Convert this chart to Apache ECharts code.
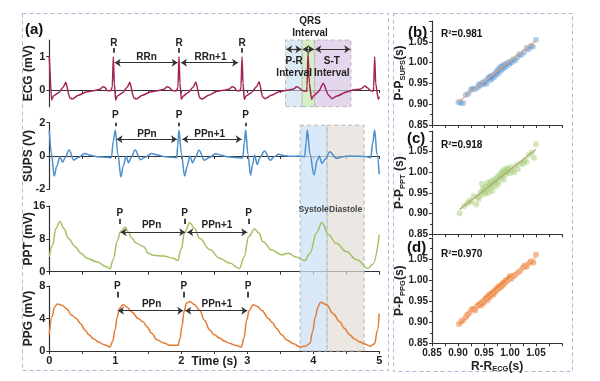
<!DOCTYPE html>
<html><head><meta charset="utf-8">
<script src="https://cdn.jsdelivr.net/npm/echarts@6/dist/echarts.min.js"></script>
<style>html,body{margin:0;padding:0;background:#fff}#c{width:600px;height:381px}</style>
</head><body><div id="c"></div>
<script>
// ---------- DATA ----------
const timeTicks = [0, 1, 2, 3, 4, 5];
const scatterTicks = [0.85, 0.90, 0.95, 1.00, 1.05];
const ecgYTicks = [0, 1];
const leftNames = ['ECG (mV)', 'SUPS (V)', 'PPT (mV)', 'PPG (mV)'];

const ecgData = [[0,1.0],[0.035,-0.3],[0.06,-0.18],[0.14,-0.08],[0.21,0.08],[0.25,0.23],[0.31,-0.24],[0.35,-0.27],[0.44,-0.16],[0.57,-0.05],[0.67,-0.02],[0.77,0.02],[0.81,0.1],[0.84,0.08],[0.88,-0.02],[0.93,-0.02],[0.955,0.1],[0.97,1.0],[0.985,0.2],[1.005,-0.3],
[1.03,-0.18],[1.11,-0.08],[1.18,0.08],[1.22,0.23],[1.28,-0.24],[1.32,-0.27],[1.41,-0.16],[1.54,-0.05],[1.64,-0.02],[1.74,0.02],[1.78,0.1],[1.81,0.08],[1.87,-0.02],[1.93,-0.02],[1.95,0.1],[1.965,1.0],[1.98,0.2],[2.0,-0.28],
[2.03,-0.18],[2.1,-0.08],[2.18,0.08],[2.22,0.24],[2.28,-0.24],[2.32,-0.27],[2.41,-0.16],[2.54,-0.04],[2.64,-0.01],[2.73,0.03],[2.77,0.1],[2.8,0.08],[2.84,-0.02],[2.89,-0.02],[2.905,0.1],[2.92,1.0],[2.935,0.2],[2.955,-0.28],
[2.98,-0.18],[3.06,-0.08],[3.14,0.1],[3.18,0.25],[3.23,-0.2],[3.27,-0.26],[3.36,-0.16],[3.48,-0.05],[3.6,-0.01],[3.7,0.03],[3.75,0.1],[3.78,0.07],[3.84,-0.02],[3.9,-0.04],[3.905,0.1],[3.92,1.12],[3.94,0.2],[3.975,-0.28],
[4.0,-0.18],[4.08,-0.05],[4.15,0.2],[4.23,-0.15],[4.28,-0.26],[4.36,-0.18],[4.5,-0.06],[4.6,0.0],[4.72,0.03],[4.78,0.12],[4.82,0.07],[4.87,-0.02],[4.91,-0.03],[4.915,0.1],[4.93,1.0],[4.945,0.2],[4.985,-0.28],[5.0,-0.2]];

const supsData = [[0,1.55],[0.03,0.2],[0.075,-1.2],[0.11,-0.64],[0.16,-0.04],[0.2,-0.38],[0.24,-0.1],[0.3,0.36],[0.37,-0.24],[0.43,-0.1],[0.54,0.15],[0.62,0.05],[0.72,-0.04],[0.87,-0.08],[0.94,-0.1],[0.97,0.9],[1.0,1.56],
[1.04,0.1],[1.085,-1.25],[1.12,-0.6],[1.165,-0.02],[1.2,-0.4],[1.24,-0.1],[1.3,0.36],[1.38,-0.22],[1.45,-0.08],[1.55,0.15],[1.64,0.06],[1.75,-0.04],[1.87,-0.08],[1.93,-0.1],[1.945,0.6],[1.965,1.56],
[2.0,0.2],[2.05,-1.2],[2.09,-0.6],[2.13,0.0],[2.17,-0.4],[2.21,-0.1],[2.27,0.35],[2.35,-0.25],[2.42,-0.1],[2.52,0.14],[2.6,0.05],[2.7,-0.05],[2.85,-0.1],[2.93,-0.12],[2.955,0.8],[2.975,1.56],
[3.01,0.1],[3.05,-1.15],[3.08,-0.5],[3.11,0.05],[3.15,-0.5],[3.19,-0.1],[3.26,0.3],[3.35,-0.25],[3.41,-0.05],[3.47,0.1],[3.56,0.02],[3.65,-0.02],[3.8,0.0],[3.87,-0.05],[3.89,0.8],[3.91,1.56],
[3.95,0.1],[4.01,-1.14],[4.06,-0.24],[4.09,0.0],[4.13,-0.44],[4.18,-0.2],[4.25,0.26],[4.35,-0.14],[4.45,-0.04],[4.55,0.0],[4.7,-0.02],[4.81,-0.04],[4.87,-0.1],[4.9,0.8],[4.93,1.56],[4.965,0.1],[5.0,-1.1]];

const pptData = [[0,3.6],[0.05,6.5],[0.1,10.5],[0.16,12.2],[0.22,10.5],[0.29,8.1],[0.39,6.1],[0.48,4.5],[0.57,3.3],[0.72,2.4],[0.87,1.2],[0.92,0.7],[0.97,3.0],[1.03,7.5],[1.08,9.8],[1.15,10.8],[1.2,9.6],[1.25,8.2],[1.32,6.9],[1.43,6.1],[1.5,4.5],[1.57,4.0],[1.73,3.8],[1.88,3.3],[1.945,2.7],[2.0,5.5],[2.05,9.6],[2.13,11.9],[2.2,10.5],[2.28,8.1],[2.43,5.4],[2.58,3.3],[2.73,2.1],[2.88,0.8],[2.95,3.5],[3.02,8.5],[3.11,10.4],[3.17,9.5],[3.24,7.3],[3.37,5.3],[3.52,4.1],[3.62,4.5],[3.75,3.5],[3.87,2.7],[3.95,4.5],[4.05,9.5],[4.13,12.0],[4.23,9.0],[4.35,6.9],[4.5,4.9],[4.66,2.9],[4.83,0.8],[4.9,1.8],[5.0,9.0]];

const ppgData = [[0,2.0],[0.04,4.2],[0.08,5.4],[0.12,5.8],[0.2,5.6],[0.26,5.2],[0.34,4.4],[0.41,4.0],[0.47,3.4],[0.54,2.6],[0.6,2.0],[0.67,1.5],[0.75,1.1],[0.82,0.8],[0.92,0.5],[0.96,1.2],[0.995,2.6],[1.03,4.2],[1.06,5.2],[1.12,5.7],[1.18,5.4],[1.25,4.8],[1.35,4.0],[1.42,3.6],[1.48,3.0],[1.55,2.2],[1.63,1.4],[1.73,1.0],[1.83,0.7],[1.95,0.7],[1.98,1.5],[2.01,3.0],[2.04,4.8],[2.08,5.9],[2.13,6.1],[2.2,5.7],[2.28,5.0],[2.35,3.8],[2.43,2.6],[2.5,2.0],[2.58,1.6],[2.66,1.2],[2.73,0.95],[2.82,0.7],[2.91,0.5],[2.95,1.6],[2.99,3.8],[3.03,5.0],[3.09,5.7],[3.15,5.5],[3.22,5.0],[3.32,4.0],[3.38,3.5],[3.44,2.8],[3.52,2.0],[3.6,1.35],[3.7,0.9],[3.8,0.5],[3.88,0.6],[3.95,0.95],[3.99,2.4],[4.03,4.2],[4.07,5.4],[4.11,6.0],[4.2,5.7],[4.3,4.6],[4.4,3.6],[4.47,2.8],[4.55,2.0],[4.62,1.5],[4.7,1.15],[4.78,0.85],[4.86,0.6],[4.93,0.9],[4.97,2.5],[5.0,4.6]];

const supsScatter = [[0.901,0.905],[0.905,0.903],[0.910,0.903],[0.915,0.922],[0.920,0.925],[0.925,0.935],[0.928,0.938],[0.932,0.936],[0.938,0.940],[0.940,0.948],[0.943,0.945],[0.947,0.952],[0.950,0.948],[0.952,0.955],[0.955,0.950],[0.957,0.962],[0.960,0.965],[0.962,0.958],[0.963,0.968],[0.966,0.962],[0.968,0.970],[0.970,0.966],[0.972,0.975],[0.975,0.980],[0.976,0.972],[0.978,0.985],[0.980,0.978],[0.982,0.990],[0.984,0.983],[0.986,0.993],[0.988,0.987],[0.990,0.996],[0.992,0.990],[0.995,0.999],[0.998,0.995],[1.000,1.002],[1.003,1.000],[1.006,1.008],[1.010,1.005],[1.014,1.012],[1.018,1.020],[1.022,1.018],[1.027,1.025],[1.032,1.035],[1.036,1.032],[1.040,1.040],[1.044,1.038],[1.050,1.055]];
const pptScatter = [[0.903,0.901],[0.912,0.918],[0.918,0.925],[0.922,0.932],[0.926,0.928],[0.930,0.942],[0.935,0.922],[0.938,0.940],[0.940,0.935],[0.943,0.952],[0.945,0.945],[0.946,0.972],[0.948,0.960],[0.950,0.955],[0.952,0.948],[0.953,0.965],[0.955,0.958],[0.957,0.975],[0.958,0.950],[0.960,0.968],[0.962,0.962],[0.963,0.978],[0.965,0.970],[0.966,0.955],[0.968,0.982],[0.970,0.975],[0.972,0.965],[0.973,0.985],[0.975,0.978],[0.977,0.990],[0.978,0.972],[0.980,0.995],[0.982,0.985],[0.984,1.000],[0.985,0.992],[0.987,1.005],[0.988,0.982],[0.990,1.000],[0.992,0.995],[0.993,1.010],[0.995,1.002],[0.997,1.008],[1.000,0.998],[1.002,1.012],[1.005,1.005],[1.008,1.000],[1.012,1.018],[1.015,1.008],[1.020,1.022],[1.025,1.020],[1.028,1.030],[1.032,1.025],[1.036,1.042],[1.042,1.048],[1.046,1.035],[1.050,1.068]];
const ppgScatter = [[0.902,0.896],[0.906,0.902],[0.910,0.905],[0.915,0.912],[0.918,0.918],[0.922,0.922],[0.926,0.930],[0.930,0.932],[0.933,0.928],[0.937,0.938],[0.940,0.942],[0.943,0.945],[0.945,0.940],[0.948,0.950],[0.950,0.946],[0.952,0.955],[0.955,0.958],[0.957,0.952],[0.958,0.962],[0.960,0.965],[0.962,0.960],[0.964,0.968],[0.966,0.970],[0.968,0.965],[0.970,0.975],[0.972,0.972],[0.974,0.980],[0.976,0.978],[0.978,0.985],[0.980,0.982],[0.982,0.988],[0.984,0.985],[0.986,0.993],[0.988,0.990],[0.990,0.995],[0.992,1.000],[0.995,0.998],[0.998,1.005],[1.000,1.010],[1.003,1.003],[1.006,1.010],[1.010,1.012],[1.015,1.018],[1.020,1.022],[1.025,1.030],[1.028,1.035],[1.032,1.032],[1.036,1.040],[1.040,1.045],[1.045,1.042],[1.050,1.060]];
const supsFit = [[0.900,0.905],[1.050,1.053]];
const pptFit = [[0.903,0.910],[1.050,1.055]];
const ppgFit = [[0.900,0.898],[1.050,1.055]];
const r2Labels = ['R\u00b2=0.981', 'R\u00b2=0.918', 'R\u00b2=0.970'];

// annotation positions (data coordinates)
const ecgR = [0.98, 1.965, 2.92];
const supsP = [1.0, 1.965, 2.975];
const pptP = [1.07, 2.05, 3.02];
const ppgP = [1.03, 2.04, 3.01];
const ecgIntervals = [[3.58, 3.83], [3.83, 4.02], [4.02, 4.57]];
const cycleBoxes = [[3.8, 4.21], [4.21, 4.77]];

// ---------- CHART ----------
const F = 'Liberation Sans';
const AX = '#333';
const chart = echarts.init(document.getElementById('c'), null, {renderer: 'canvas'});

const leftGrids = [
  {left: 49.3, top: 40, width: 330, height: 66.7},
  {left: 49.3, top: 122.7, width: 330, height: 66.6},
  {left: 49.3, top: 206, width: 330, height: 65.7},
  {left: 49.3, top: 286, width: 330, height: 65}
];
const rightGrids = [
  {left: 432, top: 21, width: 130, height: 104},
  {left: 432, top: 131, width: 130, height: 103.3},
  {left: 432, top: 238, width: 130, height: 105.3}
];

function lx(i, show) {
  return {type: 'value', gridIndex: i, min: 0, max: 5, interval: 0.5,
    axisLine: {lineStyle: {color: AX, width: 1.2}},
    axisTick: {length: 3, lineStyle: {color: AX, width: 1}},
    axisLabel: {show: show, margin: 4, fontFamily: F, fontWeight: 'bold', fontSize: 11, color: '#222',
      formatter: v => timeTicks.indexOf(v) >= 0 ? String(v) : ''},
    splitLine: {show: false},
    name: show ? 'Time (s)' : '', nameLocation: 'middle', nameGap: 5, nameMoveOverlap: false,
    nameTextStyle: {fontFamily: F, fontWeight: 'bold', fontSize: 12, color: '#222'}};
}
function ly(i, min, max, interval, extra) {
  const o = {type: 'value', gridIndex: i, min: min, max: max, interval: interval,
    axisLine: {show: true, lineStyle: {color: AX, width: 1.2}},
    axisTick: {show: true, length: 3, lineStyle: {color: AX}},
    axisLabel: {margin: 4, fontFamily: F, fontWeight: 'bold', fontSize: 11, color: '#222'},
    splitLine: {show: false}};
  if (extra) extra(o);
  return o;
}
const richName = {a: {fontFamily: F, fontWeight: 'bold', fontSize: 12, color: '#222'},
  b: {fontFamily: F, fontWeight: 'bold', fontSize: 7.5, color: '#222', padding: [6, 0, 0, 0]}};
function sx(i, show, name) {
  return {type: 'value', gridIndex: i, min: 0.85, max: 1.10, interval: 0.05,
    axisLine: {lineStyle: {color: AX, width: 1.2}},
    axisTick: {length: 3, lineStyle: {color: AX}},
    minorTick: {show: true, splitNumber: 2, length: 3, lineStyle: {color: AX}},
    axisLabel: {show: show, margin: 5, fontFamily: F, fontWeight: 'bold', fontSize: 10, color: '#222',
      formatter: v => v > 1.07 ? '' : v.toFixed(2)},
    splitLine: {show: false},
    name: name || '', nameLocation: 'middle', nameGap: 16, nameMoveOverlap: false,
    nameTextStyle: {fontFamily: F, fontWeight: 'bold', fontSize: 12, color: '#222', rich: richName}};
}
function sy(i, name) {
  return {type: 'value', gridIndex: i, min: 0.85, max: 1.10, interval: 0.05,
    axisLine: {show: true, lineStyle: {color: AX, width: 1.2}},
    axisTick: {show: true, length: 3, lineStyle: {color: AX}},
    minorTick: {show: true, splitNumber: 2, length: 2, lineStyle: {color: AX}},
    axisLabel: {margin: 4, fontFamily: F, fontWeight: 'bold', fontSize: 10, color: '#222',
      formatter: v => v > 1.07 ? '' : v.toFixed(2)},
    splitLine: {show: false},
    name: name, nameLocation: 'middle', nameGap: 25, nameRotate: 90, nameMoveOverlap: false,
    nameTextStyle: {fontFamily: F, fontWeight: 'bold', fontSize: 12, color: '#222', rich: richName}};
}

function arrow(t1, t2, v) { return [{coord: [t1, v], symbol: 'arrow'}, {coord: [t2, v], symbol: 'arrow'}]; }
function bar(t, v1, v2) { return [{coord: [t, v1], symbol: 'none', lineStyle: {width: 1.8}}, {coord: [t, v2], symbol: 'none'}]; }
function txt(t, v, s, fs, color) {
  return {coord: [t, v], name: s, label: {fontSize: fs || 10, color: color || '#222'}};
}
const mlBase = {silent: true, symbolSize: 6, animation: false, label: {show: false},
  lineStyle: {color: '#333', width: 1.2, type: 'solid'}, emphasis: {disabled: true}};
const mpBase = {silent: true, symbol: 'circle', symbolSize: 0, animation: false,
  itemStyle: {color: 'transparent'},
  label: {show: true, position: 'inside', formatter: '{b}', fontFamily: F, fontWeight: 'bold', fontSize: 10, color: '#222', lineHeight: 12}};

// texts placed above a plot area (drawn through convertToPixel)
const outsideTexts = [];

// ECG annotations
const ecgML = [];
ecgR.forEach(t => ecgML.push(bar(t, 1.12, 1.26)));
ecgML.push(arrow(ecgR[0] + 0.01, ecgR[1] - 0.02, 0.82));
ecgML.push(arrow(ecgR[1] + 0.03, ecgR[2] - 0.06, 0.82));
ecgIntervals.forEach(iv => ecgML.push(arrow(iv[0] + 0.01, iv[1] - 0.01, 1.22)));
const ecgMP = ecgR.map(t => txt(t, 1.41, 'R'));
ecgMP.push(txt((ecgR[0] + ecgR[1]) / 2, 0.99, 'RRn'));
ecgMP.push(txt((ecgR[1] + ecgR[2]) / 2, 0.99, 'RRn+1'));
ecgMP.push(txt(3.71, 0.67, 'P-R\nInterval'));
ecgMP.push(txt(4.28, 0.67, 'S-T\nInterval'));
outsideTexts.push({grid: 0, t: 3.95, v: 1.89, s: 'QRS\nInterval'});

const supsML = supsP.map(t => bar(t, 1.78, 2.0));
supsML.push(arrow(supsP[0] + 0.02, supsP[1] - 0.03, 1.0));
supsML.push(arrow(supsP[1] + 0.05, supsP[2] - 0.06, 1.0));
supsP.forEach(t => outsideTexts.push({grid: 1, t: t, v: 2.46, s: 'P'}));
const supsMP = [txt(1.48, 1.32, 'PPn'), txt(2.43, 1.32, 'PPn+1')];

const pptML = pptP.map(t => bar(t, 11.6, 12.9));
pptML.push(arrow(pptP[0] + 0.01, pptP[1] + 0.01, 9.6));
pptML.push(arrow(pptP[1] + 0.04, pptP[2] - 0.02, 9.6));
const pptMP = pptP.map(t => txt(t, 14.2, 'P'));
pptMP.push(txt(1.55, 11.4, 'PPn'));
pptMP.push(txt(2.54, 11.4, 'PPn+1'));
pptMP.push(txt((cycleBoxes[0][0] + cycleBoxes[0][1]) / 2, 15.0, 'Systole', 8.5, '#444'));
pptMP.push(txt((cycleBoxes[1][0] + cycleBoxes[1][1]) / 2, 15.0, 'Diastole', 8.5, '#444'));

const ppgML = ppgP.map(t => bar(t, 6.6, 7.3));
ppgML.push(arrow(ppgP[0] + 0.01, ppgP[1] - 0.01, 4.96));
ppgML.push(arrow(ppgP[1] + 0.02, ppgP[2] - 0.01, 4.96));
const ppgMP = ppgP.map(t => txt(t, 7.95, 'P'));
ppgMP.push(txt(1.55, 5.8, 'PPn'));
ppgMP.push(txt(2.54, 5.8, 'PPn+1'));

const intervalColors = ['rgba(196,220,240,0.6)', 'rgba(200,232,176,0.75)', 'rgba(216,196,228,0.7)'];

function line(i, data, color, smooth, ml, mp, extra) {
  const s = {type: 'line', xAxisIndex: i, yAxisIndex: i, data: data, showSymbol: false, symbol: 'none',
    smooth: smooth, smoothMonotone: 'x', clip: false, z: 3,
    lineStyle: {color: color, width: 1.5}, itemStyle: {color: color},
    markLine: Object.assign({}, mlBase, {data: ml}),
    markPoint: Object.assign({}, mpBase, {data: mp})};
  if (extra) Object.assign(s, extra);
  return s;
}

const option = {
  animation: false,
  backgroundColor: '#fff',
  textStyle: {fontFamily: F},
  grid: leftGrids.concat(rightGrids),
  xAxis: [lx(0, false), lx(1, false), lx(2, false), lx(3, true),
    sx(4, false), sx(5, false), sx(6, true, '{a|R-R}{b|ECG}{a|(s)}')],
  yAxis: [
    ly(0, -0.5, 1.5, 0.5, o => {
      o.axisLabel.formatter = v => ecgYTicks.indexOf(v) >= 0 ? String(v) : '';
      o.axisTick.customValues = ecgYTicks;
      o.axisLabel.customValues = ecgYTicks;
    }),
    ly(1, -2, 2, 2),
    ly(2, 0, 16, 8),
    ly(3, 0, 8, 4),
    sy(4, '{a|P-P}{b|SUPS}{a|(s)}'),
    sy(5, '{a|P-P}{b|PPT}{a| (s)}'),
    sy(6, '{a|P-P}{b|PPG}{a|(s)}')
  ],
  series: [
    line(0, ecgData, '#a3245a', 0.2, ecgML, ecgMP, {
      markArea: {silent: true, data: ecgIntervals.map((iv, k) => [
        {xAxis: iv[0], yAxis: -0.5, itemStyle: {color: intervalColors[k], borderColor: '#b8b8b8', borderWidth: 1, borderType: [4, 3]}},
        {xAxis: iv[1], yAxis: 1.5}])}
    }),
    line(1, supsData, '#4d8fcc', 0.35, supsML, supsMP),
    line(2, pptData, '#a3c064', 0.4, pptML, pptMP),
    line(3, ppgData, '#e57a32', 0.4, ppgML, ppgMP),
    {type: 'scatter', xAxisIndex: 4, yAxisIndex: 4, data: supsScatter, symbolSize: 6, z: 2,
      itemStyle: {color: 'rgba(84,144,204,0.55)'}},
    {type: 'scatter', xAxisIndex: 5, yAxisIndex: 5, data: pptScatter, symbolSize: 6, z: 2,
      itemStyle: {color: 'rgba(164,204,112,0.6)'}},
    {type: 'scatter', xAxisIndex: 6, yAxisIndex: 6, data: ppgScatter, symbolSize: 6, z: 2,
      itemStyle: {color: 'rgba(236,124,48,0.65)'}},
    {type: 'line', xAxisIndex: 4, yAxisIndex: 4, data: supsFit, symbol: 'none', z: 4,
      lineStyle: {color: '#e8a27a', width: 1.2}},
    {type: 'line', xAxisIndex: 5, yAxisIndex: 5, data: pptFit, symbol: 'none', z: 4,
      lineStyle: {color: '#b4a67a', width: 1.2}},
    {type: 'line', xAxisIndex: 6, yAxisIndex: 6, data: ppgFit, symbol: 'none', z: 4,
      lineStyle: {color: '#f2b48c', width: 1.2}}
  ],
  graphic: []
};

const baseGraphic = [
  {id: 'boxL', type: 'rect', shape: {x: 22.5, y: 13.5, width: 366, height: 357}, z: 0,
    style: {fill: 'none', stroke: '#a5bbd6', lineWidth: 1, lineDash: [4, 3]}},
  {id: 'boxR', type: 'rect', shape: {x: 393.5, y: 13.5, width: 179, height: 358}, z: 0,
    style: {fill: 'none', stroke: '#a5bbd6', lineWidth: 1, lineDash: [4, 3]}},
  {id: 'la', type: 'text', left: 25, top: 22, style: {text: '(a)', font: 'bold 15px "Liberation Sans"', fill: '#111'}},
  {id: 'lb', type: 'text', left: 408, top: 25, style: {text: '(b)', font: 'bold 15px "Liberation Sans"', fill: '#111'}},
  {id: 'lc', type: 'text', left: 407, top: 131, style: {text: '(c)', font: 'bold 15px "Liberation Sans"', fill: '#111'}},
  {id: 'ld', type: 'text', left: 407, top: 240, style: {text: '(d)', font: 'bold 15px "Liberation Sans"', fill: '#111'}},
  {id: 'r1', type: 'text', left: 441, top: 29, style: {text: r2Labels[0], font: 'bold 10px "Liberation Sans"', fill: '#111'}},
  {id: 'r2', type: 'text', left: 441, top: 140, style: {text: r2Labels[1], font: 'bold 10px "Liberation Sans"', fill: '#111'}},
  {id: 'r3', type: 'text', left: 441, top: 249, style: {text: r2Labels[2], font: 'bold 10px "Liberation Sans"', fill: '#111'}}
];
// y-axis titles of the four signal panels, centred on each grid
leftNames.forEach((n, k) => {
  const g = leftGrids[k];
  baseGraphic.push({id: 'yn' + k, type: 'text', x: 29, y: g.top + g.height / 2, rotation: Math.PI / 2,
    style: {text: n, x: 0, y: 0, align: 'center', verticalAlign: 'middle',
      font: 'bold 12px "Liberation Sans"', fill: '#222'}});
});
option.graphic = baseGraphic;
chart.setOption(option);

// Systole / Diastole shaded regions spanning the SUPS, PPT and PPG panels
const boxFills = ['rgba(204,226,244,0.75)', 'rgba(226,222,216,0.7)'];
const extra = cycleBoxes.map((b, k) => {
  const p1 = chart.convertToPixel({gridIndex: 1}, [b[0], 1.85]);
  const p2 = chart.convertToPixel({gridIndex: 3}, [b[1], 0]);
  return {id: 'cyc' + k, type: 'rect', z: 1,
    shape: {x: p1[0], y: p1[1], width: p2[0] - p1[0], height: p2[1] - p1[1]},
    style: {fill: boxFills[k], stroke: '#b5b5b5', lineWidth: 1, lineDash: [4, 3]}};
});
outsideTexts.forEach((o, k) => {
  const p = chart.convertToPixel({gridIndex: o.grid}, [o.t, o.v]);
  extra.push({id: 'ot' + k, type: 'text', z: 10,
    style: {text: o.s, x: p[0], y: p[1], align: 'center', verticalAlign: 'middle',
      font: 'bold 10px "Liberation Sans"', lineHeight: 12, fill: '#222'}});
});
chart.setOption({graphic: baseGraphic.concat(extra)});
</script>
</body></html>
